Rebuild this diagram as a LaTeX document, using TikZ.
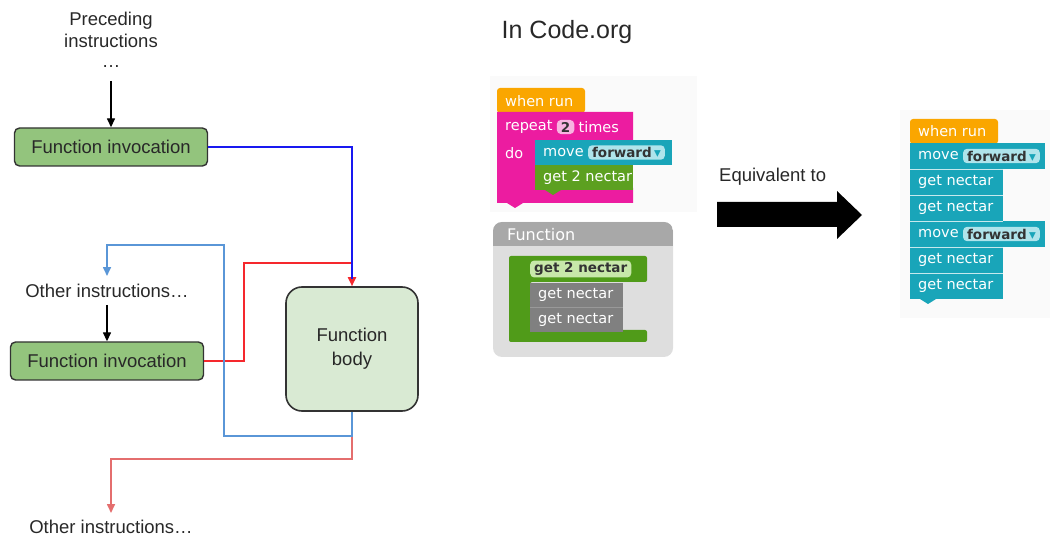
\documentclass[tikz,border=0pt]{standalone}
\usepackage{fontspec}
\setmainfont{Liberation Sans}
\newfontfamily\blockfont{DejaVu Sans}
\usetikzlibrary{arrows.meta,positioning,calc}

\definecolor{invgreen}{RGB}{147,196,125}
\definecolor{bodygreen}{RGB}{217,234,211}
\definecolor{edgegray}{RGB}{51,51,51}
\definecolor{txtgray}{RGB}{40,40,40}
\definecolor{callblue}{RGB}{25,25,240}
\definecolor{retblue}{RGB}{90,150,215}
\definecolor{callred}{RGB}{245,40,45}
\definecolor{retred}{RGB}{228,110,110}
\definecolor{runorange}{RGB}{250,166,0}
\definecolor{loopmag}{RGB}{236,28,160}
\definecolor{cntpink}{RGB}{248,180,225}
\definecolor{moveteal}{RGB}{25,165,185}
\definecolor{fieldteal}{RGB}{175,228,235}
\definecolor{nectargreen}{RGB}{92,160,32}
\definecolor{fngreen}{RGB}{80,155,25}
\definecolor{fnfield}{RGB}{200,232,170}
\definecolor{getgray}{RGB}{128,128,128}
\definecolor{panelgray}{RGB}{222,222,222}
\definecolor{headgray}{RGB}{168,168,168}

\tikzset{
  lbl/.style={font=\fontsize{18.5}{22}\selectfont, text=txtgray, inner sep=1pt},
  invbox/.style={draw=edgegray, fill=invgreen, line width=1.4pt, rounded corners=5pt,
    minimum width=193pt, minimum height=38pt, inner sep=0pt,
    font=\fontsize{18.5}{20}\selectfont, text=txtgray},
  bodybox/.style={draw=edgegray, fill=bodygreen, line width=1.6pt, rounded corners=16pt,
    minimum width=132pt, minimum height=124pt, align=center,
    font=\fontsize{18.5}{24}\selectfont, text=txtgray},
  tip/.style={-{Triangle[length=9pt,width=8pt]}},
  flow/.style={tip, line width=1.4pt, black},
  blocktxt/.style={anchor=west, inner sep=0pt, text=white, font=\blockfont\fontsize{14.5}{16}\selectfont},
  fieldbox/.style={rounded corners=4pt, inner xsep=4pt, inner ysep=2pt, text=black!80,
    font=\blockfont\bfseries\fontsize{13.5}{15}\selectfont}
}

\begin{document}
\begin{tikzpicture}[x=1pt,y=-1pt]
  \useasboundingbox (0,0) rectangle (1053,537);

  % flow chart on the left
  \node[lbl, align=center] (prec) at (111,40) {Preceding\\instructions\\[-2pt]\ldots};
  \node[invbox] (inv1) at (111,147) {Function invocation};
  \node[lbl] (oth1) at (107,291) {Other instructions\ldots};
  \node[invbox] (inv2) at (107,361) {Function invocation};
  \node[bodybox] (body) at (352,349) {Function\\body};
  \node[lbl] (oth2) at (111,527) {Other instructions\ldots};

  \draw[flow, shorten <=12pt] (prec) -- (inv1);
  \draw[flow, shorten <=6pt] (oth1) -- (inv2);

  % calls and returns
  \coordinate (redTurn) at (244,263);
  \coordinate (blueLow) at (224,436);
  \coordinate (blueHigh) at (224,245);
  \coordinate (redLow) at (111,459);
  \draw[tip, callred, line width=1.8pt] (inv2.east) -| (redTurn) -| (body.north);
  \draw[callblue, line width=1.8pt, shorten >=7pt] (inv1.east) -| (body.north);
  \draw[tip, retred, line width=1.6pt, shorten >=6pt] (body.south) |- (redLow) -- (oth2.north);
  \draw[tip, retblue, line width=1.6pt, shorten >=7pt] (body.south) |- (blueLow) -- (blueHigh) -| (oth1.north);

  % Code.org blocks
  \node[font=\fontsize{25}{28}\selectfont, text=txtgray] (title) at (567,32) {In Code.org};
  \fill[black!2] (490,76) rectangle (697,212);

  \fill[runorange, rounded corners=3pt] (497,113) -- (497,88) -- (585,88) -- (585,113) -- cycle;
  \node[blocktxt] at (505,101) {when run};
  \fill[loopmag] (497,112) -- (633,112) -- (633,140) -- (535,140) -- (535,188)
    -- (633,188) -- (633,203) -- (497,203) -- cycle;
  \fill[loopmag] (507,203) -- (515,208) -- (523,203) -- cycle;
  \node[blocktxt] (rep) at (505,127) {repeat};
  \node[fieldbox, fill=cntpink, right=4pt of rep] (cnt) {2};
  \node[blocktxt, right=4pt of cnt] {times};
  \node[blocktxt] at (505,153) {do};
  \fill[moveteal] (535,140) rectangle (672,165);
  \node[blocktxt] (mv) at (543,152.5) {move};
  \node[fieldbox, fill=fieldteal, right=4pt of mv] {forward\,{\color{moveteal}▾}};
  \fill[nectargreen] (535,165) rectangle (633,190);
  \fill[nectargreen] (545,190) -- (553,195) -- (561,190) -- cycle;
  \node[blocktxt] at (543,177.5) {get 2 nectar};

  % function definition
  \fill[panelgray, rounded corners=9pt] (493,222) rectangle (673,357);
  \begin{scope}
    \clip[rounded corners=9pt] (493,222) rectangle (673,357);
    \fill[headgray] (493,222) rectangle (673,246);
  \end{scope}
  \node[blocktxt, font=\blockfont\fontsize{16}{18}\selectfont] at (507,235) {Function};
  \fill[fngreen, rounded corners=2pt] (509,256) -- (647,256) -- (647,282) -- (530,282) -- (530,330)
    -- (647,330) -- (647,342) -- (509,342) -- cycle;
  \node[fieldbox, fill=fnfield, anchor=west] at (530,269) {get 2 nectar};
  \fill[getgray] (530,283) rectangle (623,307);
  \fill[getgray] (530,308) rectangle (623,332);
  \draw[black!40, line width=0.6pt] (530,307.5) -- (623,307.5);
  \node[blocktxt] at (538,295) {get nectar};
  \node[blocktxt] at (538,320) {get nectar};

  % equivalence arrow
  \node[lbl, anchor=west] (equiv) at (718,177) {Equivalent to};
  \fill[black] (717,202) -- (837,202) -- (837,191) -- (862,215) -- (837,239) -- (837,227)
    -- (717,227) -- cycle;

  % unrolled program
  \fill[black!2] (900,110) rectangle (1050,318);
  \fill[runorange, rounded corners=3pt] (910,144) -- (910,119) -- (998,119) -- (998,144) -- cycle;
  \node[blocktxt] at (918,131) {when run};
  \foreach \yy/\ww in {143/135, 169/93, 195/93, 221/135, 247/93, 273/93}
    \fill[moveteal] (910,\yy) rectangle ++(\ww,26);
  \foreach \yy in {169,195,221,247,273}
    \draw[white!75!moveteal, line width=0.6pt] (910,\yy) -- ++(93,0);
  \fill[moveteal] (920,299) -- (928,304) -- (936,299) -- cycle;
  \node[blocktxt] (mvA) at (918,156) {move};
  \node[fieldbox, fill=fieldteal, right=4pt of mvA] {forward\,{\color{moveteal}▾}};
  \node[blocktxt] at (918,182) {get nectar};
  \node[blocktxt] at (918,208) {get nectar};
  \node[blocktxt] (mvB) at (918,234) {move};
  \node[fieldbox, fill=fieldteal, right=4pt of mvB] {forward\,{\color{moveteal}▾}};
  \node[blocktxt] at (918,260) {get nectar};
  \node[blocktxt] at (918,286) {get nectar};
\end{tikzpicture}
\end{document}
